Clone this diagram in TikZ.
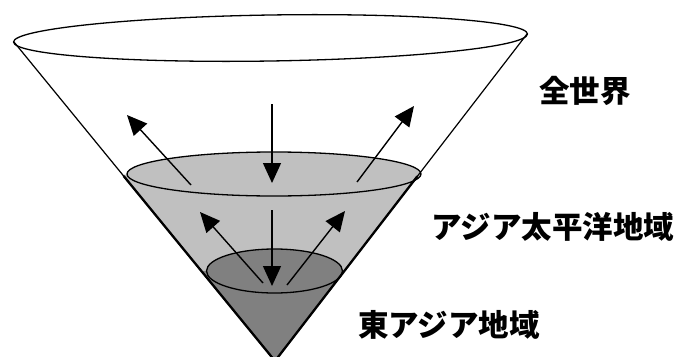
\documentclass[tikz,border=0pt]{standalone}
\usepackage{fontspec}
\newfontfamily\jpfont{Noto Sans CJK JP}
\usetikzlibrary{arrows.meta,calc}
\definecolor{paleband}{HTML}{C0C0C0}
\definecolor{coreband}{HTML}{808080}

\begin{document}
\begin{tikzpicture}[
    x=1pt, y=-1pt,
    rim/.style={draw=black, line width=1.3pt},
    side/.style={line width=1.2pt},
    heavyside/.style={line width=2.3pt},
    flow/.style={-{Triangle[length=20pt,width=18pt]}, line width=1.4pt},
    region/.style={font=\jpfont\bfseries\fontsize{30.5}{30.5}\selectfont, inner sep=0pt}
  ]
    \useasboundingbox (0,0) rectangle (677,356);

    \coordinate (apex) at (275,361);
    \coordinate (tl) at (14,42);
    \coordinate (tr) at (527,34);
    \coordinate (top) at (270.5,38);
    \coordinate (mid) at (274,174);
    \coordinate (low) at (274.5,271);

    % top rim
    \draw[rim] (top) ellipse [x radius=257pt, y radius=23pt, rotate=0.9];

    % shaded bands
    \fill[paleband] ($(tl)!0.416!(apex)$) -- (apex) -- ($(tr)!0.431!(apex)$) -- cycle;
    \draw[rim, fill=paleband] (mid) ellipse [x radius=147pt, y radius=22pt];
    \fill[coreband] ($(tl)!0.718!(apex)$) -- (apex) -- ($(tr)!0.725!(apex)$) -- cycle;
    \draw[rim, fill=coreband] (low) ellipse [x radius=68pt, y radius=22pt];

    % cone sides
    \draw[side] (tl) -- (apex) -- (tr);
    \draw[heavyside] ($(tl)!0.42!(apex)$) -- (apex) -- ($(tr)!0.435!(apex)$);

    % arrows
    \coordinate (w0) at (272,104);
    \coordinate (w1) at (272,183);
    \coordinate (wl0) at (191,185);
    \coordinate (wl1) at (127,115);
    \coordinate (wr0) at (357,182);
    \coordinate (wr1) at (414,106);
    \coordinate (a0) at (272,210);
    \coordinate (a1) at (272,286);
    \coordinate (al0) at (263,283);
    \coordinate (al1) at (200,212);
    \coordinate (ar0) at (287,285);
    \coordinate (ar1) at (345,211);
    \draw[flow] (w0) -- (w1);
    \draw[flow] (wl0) -- (wl1);
    \draw[flow] (wr0) -- (wr1);
    \draw[flow] (a0) -- (a1);
    \draw[flow] (al0) -- (al1);
    \draw[flow] (ar0) -- (ar1);

    \node[region] (world) at (585,91) {全世界};
    \node[region] (asiapac) at (553,227) {アジア太平洋地域};
    \node[region] (eastasia) at (449,325) {東アジア地域};
  \end{tikzpicture}
\end{document}
